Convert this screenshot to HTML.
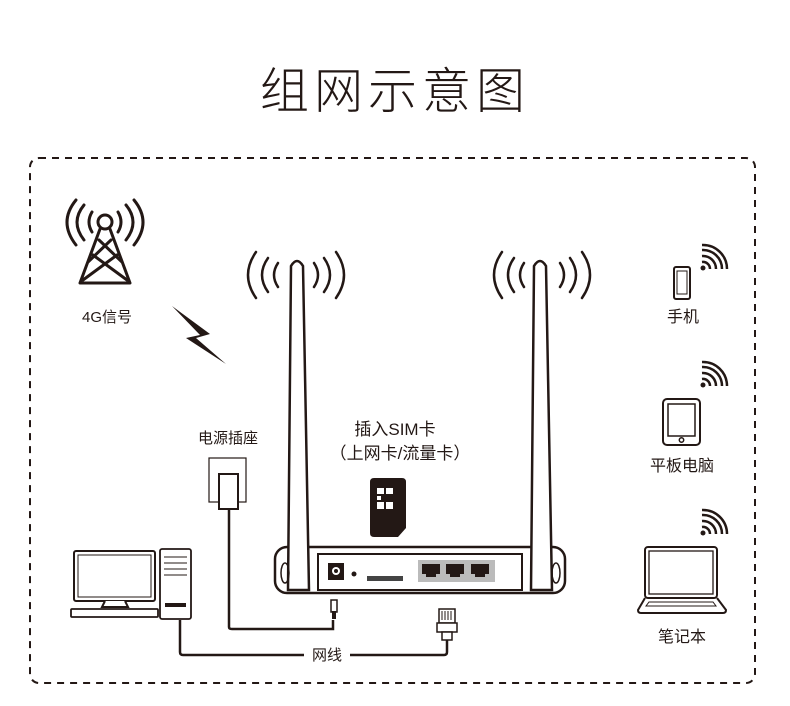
<!DOCTYPE html>
<html><head><meta charset="utf-8"><style>
html,body{margin:0;padding:0;background:#fff}
svg{display:block}
text{font-family:"Liberation Sans","Noto Sans CJK SC",sans-serif;fill:#231815}
</style></head><body>
<svg width="790" height="706" viewBox="0 0 790 706" xmlns="http://www.w3.org/2000/svg">
<text x="395" y="108" font-size="49" text-anchor="middle" style="font-weight:300;letter-spacing:5px">组网示意图</text>
<rect x="30" y="158" width="725" height="525" rx="9" fill="none" stroke="#231815" stroke-width="2" stroke-dasharray="7,6"/>
<g fill="none" stroke="#231815" stroke-linecap="round">
<g stroke-width="3">
<path d="M84 205 Q70 222 84 240 M76 200 Q58 222 76 245 M92 212 Q86 222 92 232"/>
<path d="M126 205 Q140 222 126 240 M134 200 Q152 222 134 245 M118 212 Q124 222 118 232"/>
</g>
<circle cx="105" cy="222" r="7" stroke-width="3"/>
<path d="M100 229 L80 283 M110 229 L130 283 M99 240 L122 262 M111 240 L88 262 M93 255 L127 280 M117 255 L83 280 M80 283 L130 283" stroke-width="3"/>
<g stroke-width="2.5">
<path d="M256 252 Q240 275 256 298 M268 258 Q256 275 268 292 M278 263 Q270 275 278 287"/>
<path d="M336 252 Q352 275 336 298 M324 258 Q336 275 324 292 M314 263 Q322 275 314 287"/>
<path d="M502 252 Q486 275 502 298 M514 258 Q502 275 514 292 M524 263 Q516 275 524 287"/>
<path d="M582 252 Q598 275 582 298 M570 258 Q582 275 570 292 M560 263 Q568 275 560 287"/>
</g>
</g>
<polygon points="172,306 210,334 196,338 226,364 186,338 200,335" fill="#231815"/>
<text x="107" y="322" font-size="15" text-anchor="middle">4G信号</text>
<rect x="275" y="547" width="290" height="46" rx="12" fill="#fff" stroke="#231815" stroke-width="2.5"/>
<rect x="318" y="554" width="204" height="36" fill="#fff" stroke="#231815" stroke-width="2"/>
<path d="M288 590 L291 266 Q297 256 303 266 L309 590 Z" fill="#fff" stroke="#231815" stroke-width="2.5"/>
<path d="M531 590 L534 266 Q540 256 546 266 L552 590 Z" fill="#fff" stroke="#231815" stroke-width="2.5"/>
<ellipse cx="285" cy="573" rx="4" ry="10" fill="none" stroke="#231815" stroke-width="1.5"/>
<ellipse cx="556" cy="573" rx="4" ry="10" fill="none" stroke="#231815" stroke-width="1.5"/>
<rect x="328" y="563" width="16" height="17" fill="#231815"/>
<circle cx="336" cy="571" r="4" fill="#fff"/><circle cx="336" cy="571" r="2" fill="#231815"/>
<circle cx="354" cy="574" r="2.5" fill="#231815"/>
<rect x="367" y="576" width="36" height="5" fill="#444"/>
<rect x="418" y="560" width="77" height="22" fill="#bbb"/>
<path d="M422 564 h18 v10 h-4 v3 h-10 v-3 h-4z M446 564 h18 v10 h-4 v3 h-10 v-3 h-4z M471 564 h18 v10 h-4 v3 h-10 v-3 h-4z" fill="#231815"/>
<path d="M374 478 h28 q4 0 4 4 v46 l-8 9 h-24 q-4 0 -4 -4 v-51 q0 -4 4 -4z" fill="#231815"/>
<rect x="377" y="488" width="7" height="6" fill="#fff"/><rect x="386" y="488" width="7" height="6" fill="#fff"/>
<rect x="377" y="496" width="4" height="4" fill="#fff"/>
<rect x="377" y="502" width="7" height="7" fill="#fff"/><rect x="386" y="502" width="7" height="7" fill="#fff"/>
<text x="395" y="435" font-size="17" text-anchor="middle">插入SIM卡</text>
<text x="400" y="459" font-size="17" text-anchor="middle">（上网卡/流量卡）</text>
<text x="228" y="443" font-size="15" text-anchor="middle">电源插座</text>
<rect x="209" y="458" width="37" height="44" fill="#fff" stroke="#231815" stroke-width="1.2"/>
<rect x="219" y="474" width="19" height="35" fill="#fff" stroke="#231815" stroke-width="2"/>
<g fill="none" stroke="#231815" stroke-width="2.5">
<path d="M229 510 V627 Q229 629 232 629 H333 V620"/>
<path d="M180 620 V652 Q180 655 183 655 H304"/>
<path d="M350 655 H444 Q447 655 447 652 V640"/>
</g>
<rect x="331" y="600" width="6" height="12" fill="#fff" stroke="#231815" stroke-width="1.5"/>
<rect x="332" y="611" width="4" height="8" fill="#231815"/>
<rect x="439" y="609" width="16" height="14" fill="#fff" stroke="#231815" stroke-width="1.5"/>
<path d="M442 611 v9 M445 611 v9 M448 611 v9 M451 611 v9" stroke="#231815"/>
<rect x="437" y="623" width="20" height="9" fill="#fff" stroke="#231815" stroke-width="1.5"/>
<rect x="442" y="632" width="10" height="8" fill="#fff" stroke="#231815" stroke-width="1.5"/>
<text x="327" y="660" font-size="15" text-anchor="middle">网线</text>
<g fill="none" stroke="#231815">
<rect x="74" y="551" width="81" height="50" rx="2" stroke-width="2"/>
<rect x="78" y="555" width="73" height="42" stroke-width="1"/>
<path d="M105 601 l-3 6 h26 l-3 -6" stroke-width="2" fill="#fff"/>
<rect x="71" y="609" width="87" height="8" rx="1" stroke-width="1.8"/>
<rect x="160" y="549" width="31" height="70" rx="2" stroke-width="1.8"/>
<path d="M164 557 h23 M164 563 h23 M164 569 h23 M164 575 h23" stroke-width="1"/>
</g>
<rect x="165" y="603" width="21" height="4" fill="#231815"/>
<g fill="#231815">
<circle cx="703" cy="268" r="2.5"/>
<circle cx="703" cy="385" r="2.5"/><circle cx="703" cy="533" r="2.5"/>
</g>
<g fill="none" stroke="#231815" stroke-width="2.5">
<path d="M702 262 a7 7 0 0 1 8 7 M702 256 a13 13 0 0 1 14 13 M702 250 a19 19 0 0 1 20 19 M702 245 a24 24 0 0 1 25 24"/>
<path d="M702 379 a7 7 0 0 1 8 7 M702 373 a13 13 0 0 1 14 13 M702 367 a19 19 0 0 1 20 19 M702 362 a24 24 0 0 1 25 24"/>
<path d="M702 527 a7 7 0 0 1 8 7 M702 521 a13 13 0 0 1 14 13 M702 515 a19 19 0 0 1 20 19 M702 510 a24 24 0 0 1 25 24"/>
</g>
<g fill="none" stroke="#231815">
<rect x="674" y="267" width="16" height="32" rx="2" stroke-width="2"/>
<rect x="677" y="271" width="10" height="23" stroke-width="1"/>
<rect x="663" y="399" width="37" height="46" rx="4" stroke-width="2"/>
<rect x="668" y="404" width="27" height="32" stroke-width="1.5"/>
<circle cx="681.5" cy="440" r="2.2" stroke-width="1.5"/>
<rect x="645" y="547" width="72" height="51" rx="3" stroke-width="2"/>
<rect x="649" y="551" width="64" height="43" stroke-width="1.3"/>
<path d="M645 598 L638 610 Q638 613 641 613 H723 Q726 613 726 610 L717 598" stroke-width="2"/>
<path d="M649 602 H713 L716 606 H646 Z" stroke-width="1"/>
</g>
<text x="683" y="322" font-size="16" text-anchor="middle">手机</text>
<text x="682" y="471" font-size="16" text-anchor="middle">平板电脑</text>
<text x="682" y="642" font-size="16" text-anchor="middle">笔记本</text>
</svg>
</body></html>
